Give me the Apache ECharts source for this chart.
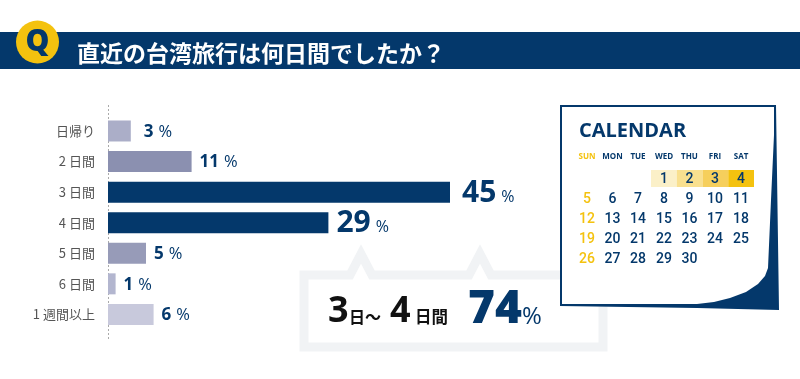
<!DOCTYPE html>
<html>
<head>
<meta charset="utf-8">
<style>
  html, body { margin: 0; padding: 0; background: #fff; }
  #chart { width: 800px; height: 379px; }
</style>
</head>
<body>
<div id="chart"></div>
<script src="https://cdn.jsdelivr.net/npm/echarts@6/dist/echarts.min.js"></script>
<script>
const titleText = '直近の台湾旅行は何日間でしたか？';
const categories = ['日帰り', '2 日間', '3 日間', '4 日間', '5 日間', '6 日間', '1 週間以上'];
const values = [3, 11, 45, 29, 5, 1, 6];
const barColors = ['#abaec8', '#8b90b0', '#04386b', '#04386b', '#979bb8', '#b3b6cf', '#c8c9dc'];

const weekDays = ['SUN', 'MON', 'TUE', 'WED', 'THU', 'FRI', 'SAT'];
const calendarRows = [
  ['', '', '', '1', '2', '3', '4'],
  ['5', '6', '7', '8', '9', '10', '11'],
  ['12', '13', '14', '15', '16', '17', '18'],
  ['19', '20', '21', '22', '23', '24', '25'],
  ['26', '27', '28', '29', '30', '', '']
];
const highlightColors = ['#fbf0c8', '#f9e08f', '#f6cf5c', '#f4c20f'];

const NAVY = '#04386b';
const YELLOW = '#f4c20f';
const JP = '"Noto Sans CJK JP", sans-serif';
const LATIN = '"Open Sans", sans-serif';

const colX = [587, 612.5, 638, 664, 689.5, 715, 741];
const rowY = [179, 199.5, 219, 239, 259];

const graphics = [
  // タイトル帯
  { type: 'rect', shape: { x: 0, y: 32, width: 800, height: 37 }, style: { fill: NAVY } },
  { type: 'circle', shape: { cx: 37.5, cy: 42, r: 21.5 }, style: { fill: YELLOW } },
  { type: 'text', style: { x: 37.5, y: 42, text: 'Q', fill: NAVY, font: '800 30px ' + LATIN, align: 'center', verticalAlign: 'middle' } },
  { type: 'text', style: { x: 77, y: 53, text: titleText, fill: '#fff', font: '700 23px ' + JP, verticalAlign: 'middle' } },
  // 軸の点線
  { type: 'line', shape: { x1: 108.5, y1: 105, x2: 108.5, y2: 341 }, style: { stroke: '#aaaaaa', lineWidth: 1, lineDash: [2, 2] } },
  // 吹き出し
  {
    type: 'polygon',
    shape: { points: [[304, 275], [350, 275], [361, 254], [372, 275], [469, 275], [480, 254], [491, 275], [603, 275], [603, 347], [304, 347]] },
    style: { fill: '#fff', stroke: '#f1f3f5', lineWidth: 9, lineJoin: 'miter' }
  },
  { type: 'text', style: { x: 328, y: 312, text: '3', fill: '#111', font: '700 36px ' + LATIN, verticalAlign: 'middle' } },
  { type: 'text', style: { x: 349, y: 317, text: '日～', fill: '#111', font: '700 16px ' + JP, verticalAlign: 'middle' } },
  { type: 'text', style: { x: 390, y: 312, text: '4', fill: '#111', font: '700 36px ' + LATIN, verticalAlign: 'middle' } },
  { type: 'text', style: { x: 415, y: 317, text: '日間', fill: '#111', font: '700 16.5px ' + JP, verticalAlign: 'middle' } },
  { type: 'text', style: { x: 468, y: 310, text: '74', fill: NAVY, font: '800 46px ' + LATIN, verticalAlign: 'middle' } },
  { type: 'text', style: { x: 522, y: 317, text: '%', fill: NAVY, font: '400 24px ' + LATIN, verticalAlign: 'middle' } },
  // カレンダー
  {
    type: 'polygon',
    shape: { points: [[560, 105], [776, 105], [779, 310], [697, 308], [560, 306]] },
    style: { fill: NAVY }
  },
  {
    type: 'polygon',
    shape: { points: [[562, 107], [774, 107], [774, 135], [771, 200], [768, 268], [765, 276], [758, 284], [746, 292], [730, 298], [714, 302], [697, 304], [562, 304]] },
    style: { fill: '#fff' }
  },
  { type: 'text', style: { x: 579, y: 131, text: 'CALENDAR', fill: NAVY, font: '700 20px ' + LATIN, verticalAlign: 'middle' } }
];

highlightColors.forEach((c, i) => {
  graphics.push({ type: 'rect', shape: { x: 651 + i * 25.75, y: 170, width: 25.75, height: 17 }, style: { fill: c } });
});
weekDays.forEach((d, i) => {
  graphics.push({
    type: 'text',
    style: { x: colX[i], y: 157, text: d, fill: i === 0 ? YELLOW : NAVY, font: '700 8px ' + LATIN, align: 'center', verticalAlign: 'middle' }
  });
});
calendarRows.forEach((row, r) => {
  row.forEach((d, i) => {
    if (!d) return;
    graphics.push({
      type: 'text',
      style: { x: colX[i], y: rowY[r], text: d, fill: i === 0 ? YELLOW : NAVY, font: '500 14px Roboto, sans-serif', align: 'center', verticalAlign: 'middle' }
    });
  });
});

const chart = echarts.init(document.getElementById('chart'));
chart.setOption({
  animation: false,
  backgroundColor: '#fff',
  grid: { left: 108, top: 115.7, width: 380, height: 214 },
  xAxis: { type: 'value', min: 0, max: 50, show: false },
  yAxis: {
    type: 'category',
    inverse: true,
    data: categories,
    axisLine: { show: false },
    axisTick: { show: false },
    axisLabel: { color: '#555', fontSize: 13, fontFamily: JP, margin: 13, padding: [2, 0, 0, 0] }
  },
  graphic: graphics,
  series: [{
    type: 'bar',
    barWidth: 21,
    z: 3,
    data: values.map((v, i) => ({
      value: v,
      itemStyle: { color: barColors[i] },
      label: { distance: v === 3 ? 13 : v === 45 ? 12 : 8 }
    })),
    label: {
      show: true,
      position: 'right',
      offset: [0, 1],
      formatter: p => p.value >= 29 ? `{big|${p.value}}{bigPct|%}` : `{small|${p.value}}{smallPct|%}`,
      rich: {
        big: { fontSize: 30, fontWeight: 700, color: NAVY, fontFamily: LATIN },
        bigPct: { fontSize: 16, color: NAVY, fontFamily: LATIN, padding: [8, 0, 0, 5] },
        small: { fontSize: 17, fontWeight: 700, color: NAVY, fontFamily: LATIN },
        smallPct: { fontSize: 16.5, color: NAVY, fontFamily: LATIN, padding: [0, 0, 0, 5] }
      }
    }
  }]
});
</script>
</body>
</html>
